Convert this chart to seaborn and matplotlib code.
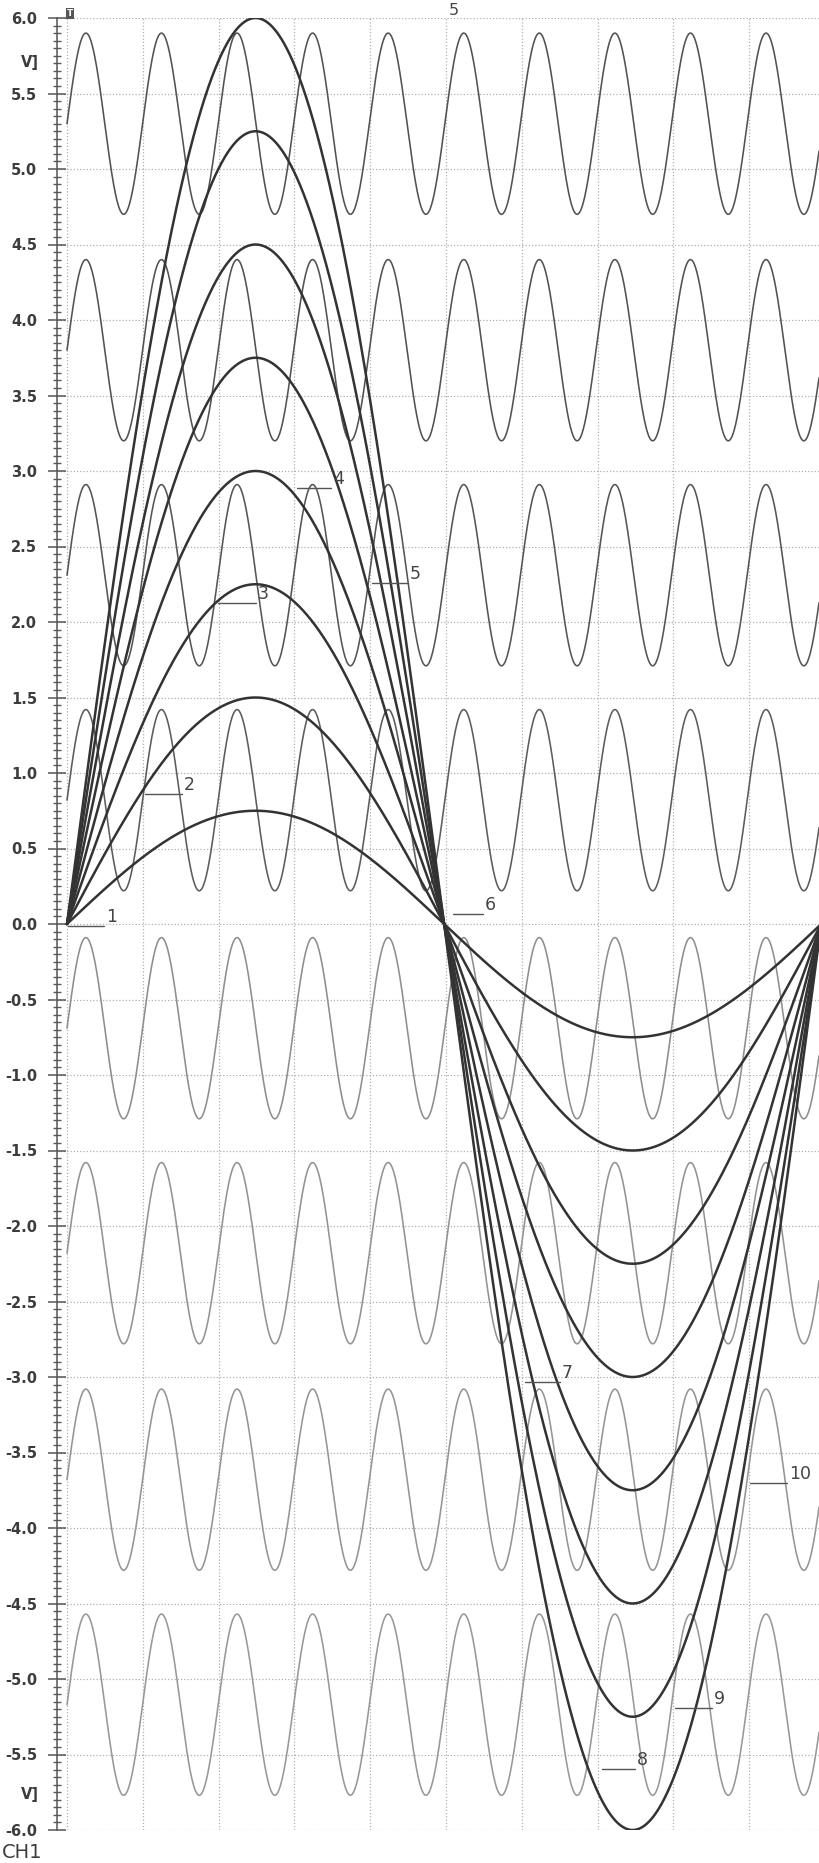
import numpy as np
import pandas as pd
import matplotlib
matplotlib.use("Agg")
import matplotlib.pyplot as plt
import seaborn as sns

# ---------------- data ----------------
# large one-period sine traces: amplitudes in V
carrier_amplitudes = [0.75, 1.50, 2.25, 3.00, 3.75, 4.50, 5.25, 6.00]
carrier_period_div = 9.95          # one full period across the screen (divisions)

# small fast sine traces: centre levels in V, common amplitude and period
ripple_centres = [5.30, 3.80, 2.31, 0.82, -0.69, -2.18, -3.68, -5.17]
ripple_amplitude = 0.60
ripple_period_div = 0.997

# y tick values / labels
y_ticks = [6.0 - 0.5 * i for i in range(25)]
y_tick_labels = [f"{v:.1f}" for v in y_ticks]

# trace labels
trace_labels = ["1", "2", "3", "4", "5", "6", "7", "8", "9", "10"]

# ---------------- layout (pixels of the 819x1863 figure) ----------------
W, H = 819, 1863
PX_X0, PX_DIV = 67.0, 75.8       # x=0 pixel, pixels per division
PX_Y6, PX_PER_V = 18.0, 151.0    # pixel of +6.0 V, pixels per volt


def dx(px):
    return (px - PX_X0) / PX_DIV


def dy(py):
    return 6.0 - (py - PX_Y6) / PX_PER_V


# leader segments (x start px, x end px, y px) for each label
label_layout = [
    (68, 104, 926), (145, 182, 794), (218, 256, 603), (297, 331, 488),
    (372, 408, 583), (453, 483, 914), (525, 560, 1382), (602, 635, 1769),
    (675, 712, 1708), (750, 787, 1483),
]

sns.set_style("white")
plt.rcParams["font.family"] = ["DejaVu Sans"]

fig = plt.figure(figsize=(W / 100, H / 100), dpi=100)
fig.patch.set_facecolor("white")
ax = fig.add_axes([57 / W, (H - 1830) / H, (W - 57) / W, 1812 / H])

x = np.linspace(0.0, dx(W), 5000)

# fast ripple traces
ripple_colors = ["#525252", "#525252", "#555555", "#5c5c5c",
                 "#8e8e8e", "#939393", "#959595", "#989898"]
for c, col in zip(ripple_centres, ripple_colors):
    df = pd.DataFrame({"x": x, "v": c + ripple_amplitude * np.sin(2 * np.pi * x / ripple_period_div)})
    sns.lineplot(data=df, x="x", y="v", ax=ax, color=col, lw=1.15,
                 estimator=None, sort=False, legend=False)

# large carrier traces
for a in carrier_amplitudes:
    df = pd.DataFrame({"x": x, "v": a * np.sin(2 * np.pi * x / carrier_period_div)})
    sns.lineplot(data=df, x="x", y="v", ax=ax, color="#333333", lw=1.8,
                 estimator=None, sort=False, legend=False)

ax.set_xlim(dx(57), dx(W))
ax.set_ylim(-6.0, 6.0)
ax.set_xlabel("")
ax.set_ylabel("")

# ticks
ax.set_yticks(y_ticks)
ax.set_yticklabels(y_tick_labels)
ax.set_yticks(np.arange(-6.0, 6.0001, 0.05), minor=True)
ax.tick_params(axis="y", which="major", left=True, direction="inout", length=13.5,
               width=1.1, color="#555555", pad=7.5, labelsize=10.5,
               labelcolor="#3c3c3c")
ax.tick_params(axis="y", which="minor", left=True, direction="inout", length=6.0,
               width=1.0, color="#5a5a5a")
for t in ax.get_yticklabels():
    t.set_fontweight("bold")
ax.set_xticks(range(0, 10))
ax.tick_params(axis="x", which="both", length=0, labelbottom=False)

# grid
ax.grid(True, which="major", axis="both", color="#b0b0b0", lw=0.9,
        linestyle=(0, (1.0, 1.6)))
ax.set_axisbelow(True)
for s in ["top", "right", "bottom"]:
    ax.spines[s].set_visible(False)
ax.spines["left"].set_color("#555555")
ax.spines["left"].set_linewidth(1.1)

# trace labels with leader lines
for lab, (xa, xb, yp) in zip(trace_labels, label_layout):
    ax.plot([dx(xa), dx(xb)], [dy(yp), dy(yp)], color="#555555", lw=1.0, clip_on=False)
    ax.text(dx(xb + 2), dy(yp), lab, ha="left", va="bottom", fontsize=12.5,
            color="#444444")

# screen markers
ax.text(dx(449), 6.0, "5", ha="left", va="bottom", fontsize=11.5, color="#444444",
        clip_on=False)
ax.text(dx(67), 6.0, "T", ha="left", va="bottom", fontsize=6.5, color="white",
        fontweight="bold", clip_on=False,
        bbox=dict(boxstyle="square,pad=0.12", fc="#555555", ec="none"))

fig.text(30 / W, 1 - 62 / H, "V]", ha="center", va="center", fontsize=10.5,
         fontweight="bold", color="#3c3c3c")
fig.text(30 / W, 1 - 1795 / H, "V]", ha="center", va="center", fontsize=10.5,
         fontweight="bold", color="#3c3c3c")
fig.text(2 / W, 1 - 1853 / H, "CH1", ha="left", va="center", fontsize=14,
         color="#3c3c3c")

fig.savefig("out.png", dpi=100, facecolor="white")
